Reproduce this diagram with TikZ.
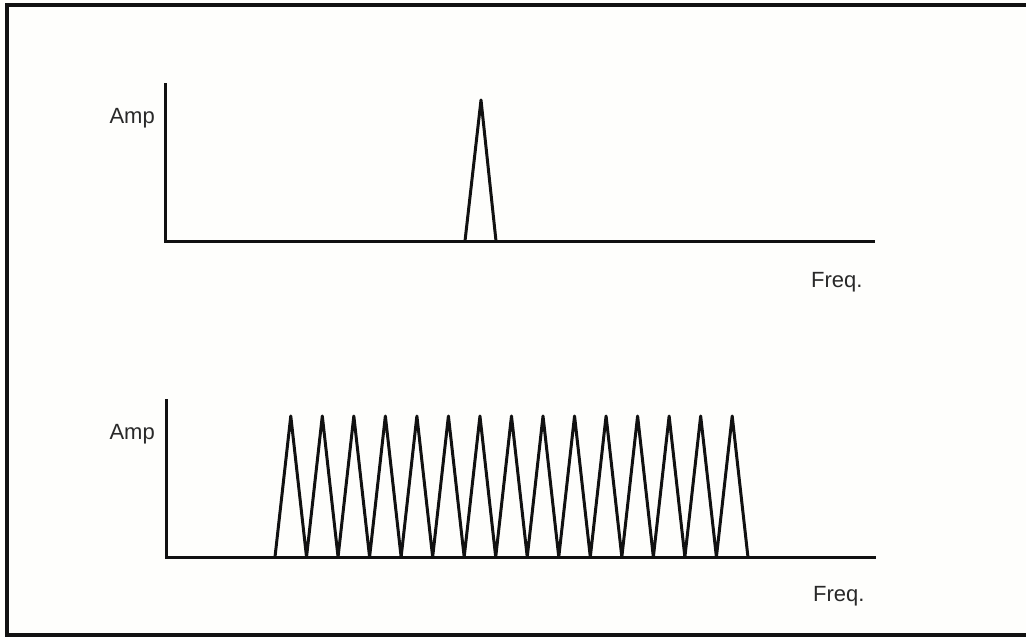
\documentclass[tikz,border=0pt]{standalone}
\usepackage{fontspec}
\setmainfont{Liberation Sans}
\definecolor{bg}{HTML}{FEFEFC}
\definecolor{ink}{HTML}{111111}
\begin{document}
\begin{tikzpicture}[x=1pt,y=-1pt,
  frameline/.style={line width=3.2pt,draw=ink},
  axisline/.style={line width=3pt,draw=ink},
  peakline/.style={line width=3pt,line join=round,draw=ink},
  lbl/.style={font=\fontsize{22}{24}\selectfont,inner sep=0pt,text=ink!90}]
\fill[bg] (0,0) rectangle (1026,637);
\useasboundingbox (0,0) rectangle (1026,637);
% frame
\coordinate (ftr) at (1026,5);
\coordinate (ftl) at (7,5);
\coordinate (fbl) at (7,635);
\coordinate (fbr) at (1026,635);
\draw[frameline] (ftr) -- (ftl) -- (fbl) -- (fbr);
% top plot
\coordinate (ta) at (165,83);
\coordinate (to) at (165,241);
\coordinate (te) at (875,241);
\draw[axisline] (ta) -- (to) -- (te);
\coordinate (tp1) at (465,241);
\coordinate (tp2) at (481,100);
\coordinate (tp3) at (496,241);
\draw[peakline] (tp1) -- (tp2) -- (tp3);
\node[lbl,anchor=east] (tamp) at (155,118) {Amp};
\node[lbl,anchor=west] (tfreq) at (811,282) {Freq.};
% bottom plot
\coordinate (ba) at (166,399);
\coordinate (bo) at (166,557);
\coordinate (be) at (876,557);
\draw[axisline] (ba) -- (bo) -- (be);
\coordinate (bs) at (275,557);
\draw[peakline] (bs)
  \foreach \i in {0,...,14} {
    -- ({275+31.53*\i+15.77},416) -- ({275+31.53*(\i+1)},557)
  };
\node[lbl,anchor=east] (bamp) at (155,434) {Amp};
\node[lbl,anchor=west] (bfreq) at (813,596) {Freq.};
\end{tikzpicture}
\end{document}
